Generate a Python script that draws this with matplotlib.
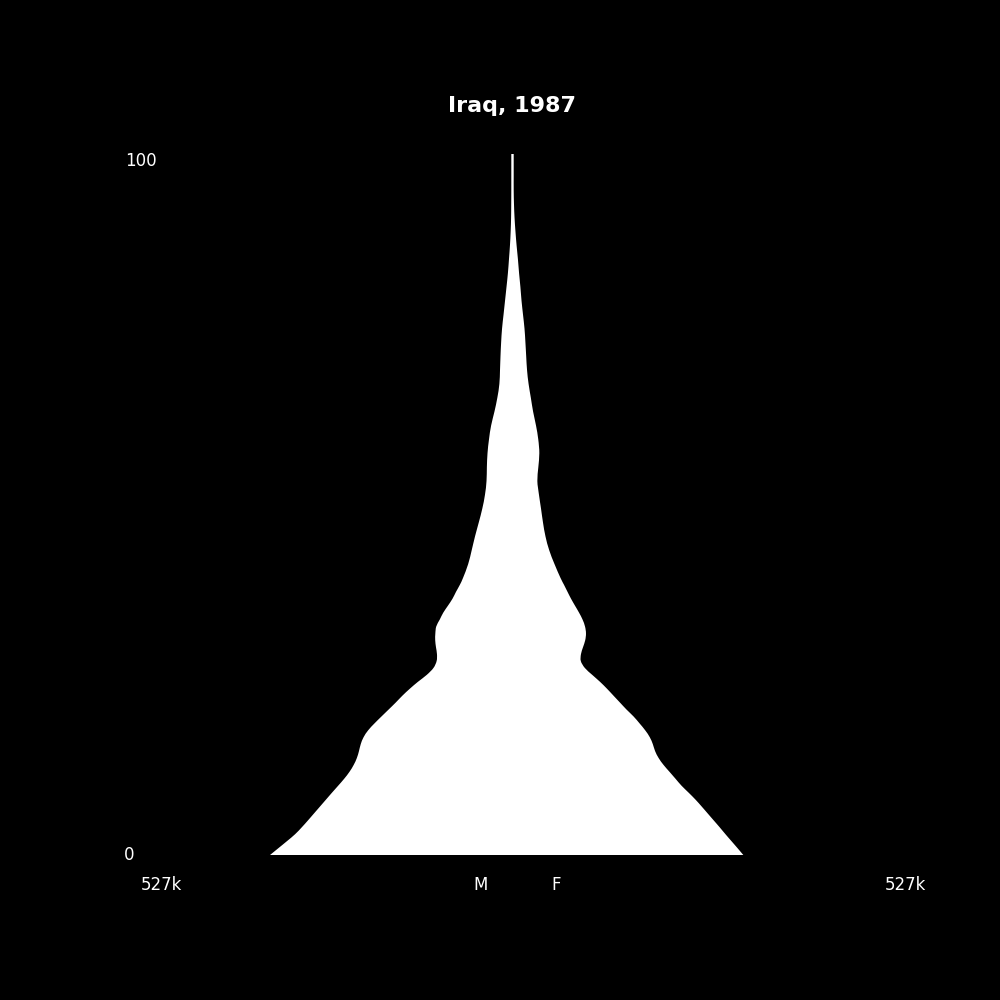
import numpy as np
import matplotlib
matplotlib.use('Agg')
import matplotlib.pyplot as plt
from matplotlib.path import Path
from matplotlib.patches import PathPatch

# age bands (years) and population in thousands
ages = [0, 1, 2, 3, 4, 5, 6, 7, 8, 9, 10, 11, 12, 13, 14, 15, 16, 17, 18, 19,
        20, 21, 22, 23, 24, 25, 26, 27, 28, 29, 30, 31, 32, 33, 34, 35, 36, 37,
        38, 39, 40, 42, 44, 46, 48, 50, 52, 54, 56, 58, 60, 62, 64, 66, 68, 70,
        72, 74, 76, 78, 80, 82, 84, 86, 88, 90, 92, 94, 96, 98, 100, 101.2]

male_k = [343.5, 331.5, 319.5, 308.0, 298.5, 289.7, 281.2, 272.7, 264.2, 255.7,
          247.0, 238.5, 231.0, 225.0, 220.5, 217.5, 215.0, 211.0, 204.5, 195.5,
          185.6, 175.5, 165.5, 156.0, 145.5, 134.0, 121.5, 112.0, 107.5, 107.0,
          108.4, 109.5, 109.3, 108.0, 103.0, 98.0, 91.4, 85.0, 80.0, 74.6,
          70.1, 62.8, 57.8, 53.1, 47.8, 42.8, 39.0, 36.8, 36.3, 35.4,
          33.3, 30.3, 25.6, 21.5, 18.6, 17.7, 17.0, 16.1, 14.8, 12.7,
          10.6, 8.5, 6.5, 5.0, 3.6, 2.6, 2.0, 1.8, 1.7, 1.7, 1.7, 1.7]

female_k = [327.0, 318.7, 310.2, 301.7, 293.5, 285.0, 276.5, 268.0, 259.2, 249.5,
            239.5, 231.0, 222.5, 214.0, 207.0, 202.0, 198.8, 194.5, 188.0, 180.0,
            171.5, 161.5, 152.3, 143.1, 133.9, 124.0, 113.0, 102.5, 96.8, 97.0,
            99.9, 103.0, 104.1, 102.7, 99.2, 94.2, 88.5, 82.9, 77.9, 73.0,
            68.0, 59.5, 52.0, 46.7, 43.2, 40.4, 37.5, 35.2, 36.6, 38.0,
            36.5, 33.3, 29.2, 26.0, 22.8, 20.6, 19.4, 18.3, 17.0, 14.9,
            12.8, 11.2, 9.3, 7.7, 5.8, 4.2, 2.9, 2.1, 1.7, 1.7, 1.7, 1.7]

x_max = 527
title = 'Iraq, 1987'


def smooth_side(pts):
    # catmull-rom through the points, as bezier segments
    verts = [pts[0]]
    codes = []
    n = len(pts)
    for i in range(n - 1):
        p0 = pts[max(i - 1, 0)]
        p1 = pts[i]
        p2 = pts[i + 1]
        p3 = pts[min(i + 2, n - 1)]
        c1 = p1 + (p2 - p0) / 6.0
        c2 = p2 - (p3 - p1) / 6.0
        verts += [c1, c2, p2]
        codes += [Path.CURVE4] * 3
    return verts, codes


ages = np.array(ages, dtype=float)
male = np.array(male_k)
female = np.array(female_k)

left = np.column_stack([-male, ages])
right = np.column_stack([female, ages])[::-1]

lv, lc = smooth_side(left)
rv, rc = smooth_side(right)
verts = lv + rv + [lv[0]]
codes = [Path.MOVETO] + lc + [Path.LINETO] + rc + [Path.CLOSEPOLY]
shape = Path(np.array(verts), codes)

fig = plt.figure(figsize=(10, 10), dpi=100, facecolor='black')
ax = fig.add_axes([0.1405, 0.145, 0.744, 0.701])
ax.set_facecolor('black')
ax.add_patch(PathPatch(shape, facecolor='white', lw=0))
ax.set_xlim(-x_max, x_max)
ax.set_ylim(0, 101.2)
ax.axis('off')

# axis annotations
ax.text(-x_max, -5.1, '%dk' % x_max, color='white', fontsize=12,
        ha='left', va='baseline', clip_on=False)
ax.text(x_max, -5.1, '%dk' % x_max, color='white', fontsize=12,
        ha='left', va='baseline', clip_on=False)
ax.text(-55, -5.1, 'M', color='white', fontsize=12, ha='left', va='baseline')
ax.text(55, -5.1, 'F', color='white', fontsize=12, ha='left', va='baseline')

fig.text(0.124, 0.1405, '0', color='white', fontsize=12, ha='left', va='baseline')
fig.text(0.125, 0.8335, '100', color='white', fontsize=12, ha='left', va='baseline')

fig.text(0.512, 0.888, title, color='white', fontsize=16, fontweight='bold',
         ha='center', va='baseline')

fig.savefig('out.png', dpi=100, facecolor='black')
